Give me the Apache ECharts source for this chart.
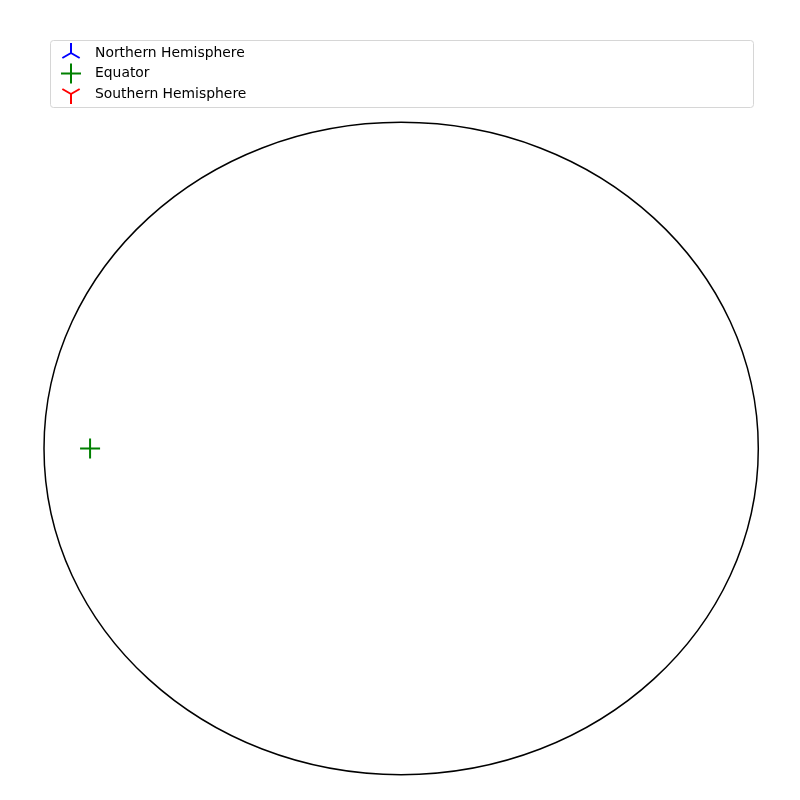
<!DOCTYPE html>
<html>
<head>
<meta charset="utf-8">
<script src="https://cdn.jsdelivr.net/npm/echarts@6/dist/echarts.min.js"></script>
<style>html,body{margin:0;padding:0;background:#fff}#c{width:800px;height:800px}</style>
</head>
<body>
<div id="c"></div>
<script>
// Data
var seriesNames = ['Northern Hemisphere', 'Equator', 'Southern Hemisphere'];
var northernPoints = [];
var equatorPoints = [[-0.871, 0]];
var southernPoints = [];
var boundary = [[0, 0, 1, 1]]; // centre x, centre y, radius x, radius y (data units)

var colors = ['#0000ff', '#008000', '#ff0000'];
var triUp = 'path://M-10,-10M10,10M0,0L0,-10M0,0L-8.66,5M0,0L8.66,5';
var plus = 'path://M-10,-10M10,10M-10,0L10,0M0,-10L0,10';
var triDown = 'path://M-10,-10M10,10M0,0L0,10M0,0L-8.66,-5M0,0L8.66,-5';
var symbols = [triUp, plus, triDown];

var chart = echarts.init(document.getElementById('c'), null, {renderer: 'canvas'});
var font = 'DejaVu Sans';

function mkScatter(i, data) {
  return {
    name: seriesNames[i],
    type: 'scatter',
    data: data,
    symbol: symbols[i],
    symbolSize: 20,
    itemStyle: {color: 'rgba(0,0,0,0)', borderColor: colors[i], borderWidth: 2, opacity: 1},
    z: 5,
    silent: true
  };
}

chart.setOption({
  animation: false,
  backgroundColor: '#fff',
  grid: {left: 44, right: 41.7, top: 122.3, bottom: 25.3, containLabel: false},
  xAxis: {type: 'value', min: -1, max: 1, show: false},
  yAxis: {type: 'value', min: -1, max: 1, show: false},
  graphic: [{
    type: 'rect', z: 0,
    shape: {x: 50.5, y: 40.5, width: 703, height: 67, r: 3},
    style: {fill: '#fff', stroke: '#d6d6d6', lineWidth: 1}
  }],
  legend: {
    orient: 'vertical',
    left: 55, top: 37,
    itemWidth: 20, itemHeight: 20, itemGap: -1.5,
    textStyle: {fontFamily: font, fontSize: 13.9, color: '#000', padding: [0, 0, 0, 9]},
    z: 10,
    data: seriesNames.map(function (n, i) {
      return {name: n, icon: symbols[i], itemStyle: {color: 'rgba(0,0,0,0)', borderColor: colors[i], borderWidth: 2, opacity: 1}};
    })
  },
  series: [
    mkScatter(0, northernPoints),
    mkScatter(1, equatorPoints),
    mkScatter(2, southernPoints),
    {
      type: 'custom',
      silent: true,
      z: 2,
      data: boundary,
      renderItem: function (params, api) {
        var c = api.coord([api.value(0), api.value(1)]);
        var s = api.size([api.value(2), api.value(3)]);
        return {
          type: 'ellipse',
          shape: {cx: c[0], cy: c[1], rx: s[0], ry: s[1]},
          style: {fill: 'none', stroke: '#000', lineWidth: 1.5}
        };
      }
    }
  ]
});
</script>
</body>
</html>
